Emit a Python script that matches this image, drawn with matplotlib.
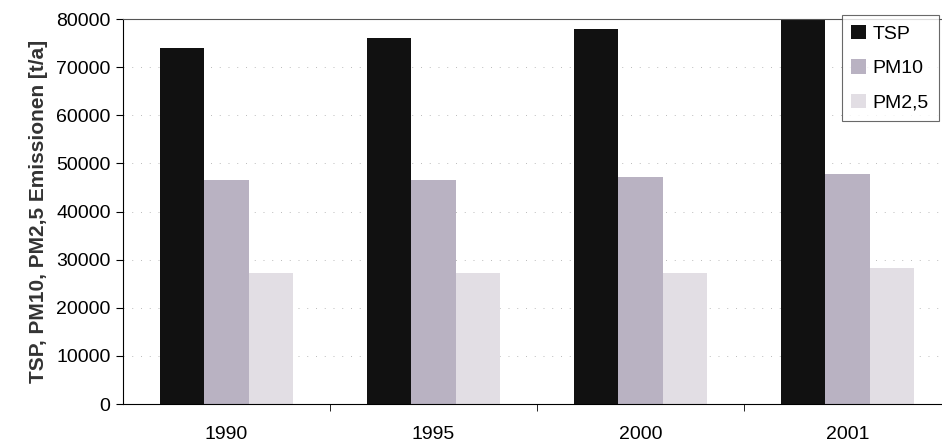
import matplotlib.pyplot as plt
import numpy as np

years = ["1990", "1995", "2000", "2001"]
tsp = [74000, 76000, 78000, 80500]
pm10 = [46500, 46500, 47200, 47900]
pm25 = [27200, 27200, 27200, 28200]

plt.rcParams["font.family"] = ["Liberation Sans", "DejaVu Sans"]

fig = plt.figure(figsize=(9.42, 4.44), dpi=100)
ax = fig.add_axes([0.1306, 0.09, 0.879, 0.867])

x = np.arange(len(years))
w = 0.215
ax.bar(x - w, tsp, w, color="#111111", label="TSP")
ax.bar(x, pm10, w, color="#b9b2c2", label="PM10")
ax.bar(x + w, pm25, w, color="#e2dee4", label="PM2,5")

ax.set_xlim(-0.5, len(years) - 0.5)
ax.set_ylim(0, 80000)
ax.set_yticks(range(0, 80001, 10000))
ax.set_xticks(x)
ax.set_xticklabels(years)
ax.set_xticks(np.arange(0.5, len(years) - 0.5), minor=True)
ax.tick_params(axis="x", which="major", length=0, labelsize=14, pad=16)
ax.tick_params(axis="x", which="minor", length=5, direction="out")
ax.tick_params(axis="y", labelsize=14, length=5, direction="out", pad=4)

ax.yaxis.grid(True, linestyle=(0, (1, 8)), color="#bbbbbb", linewidth=0.7)
ax.set_axisbelow(True)

ax.spines["right"].set_visible(False)
ax.spines["top"].set_color("#555555")

ax.set_ylabel("TSP, PM10, PM2,5 Emissionen [t/a]", fontsize=15, fontweight="bold",
              color="#333333", labelpad=6)

leg = ax.legend(loc="upper right", bbox_to_anchor=(0.985, 1.01), fontsize=14,
                frameon=True, fancybox=False, edgecolor="#444444",
                handlelength=0.75, handleheight=0.75, labelspacing=0.85,
                handletextpad=0.35, borderpad=0.5, borderaxespad=0.0)
leg.get_frame().set_linewidth(0.8)

fig.savefig("out.png", dpi=100)
